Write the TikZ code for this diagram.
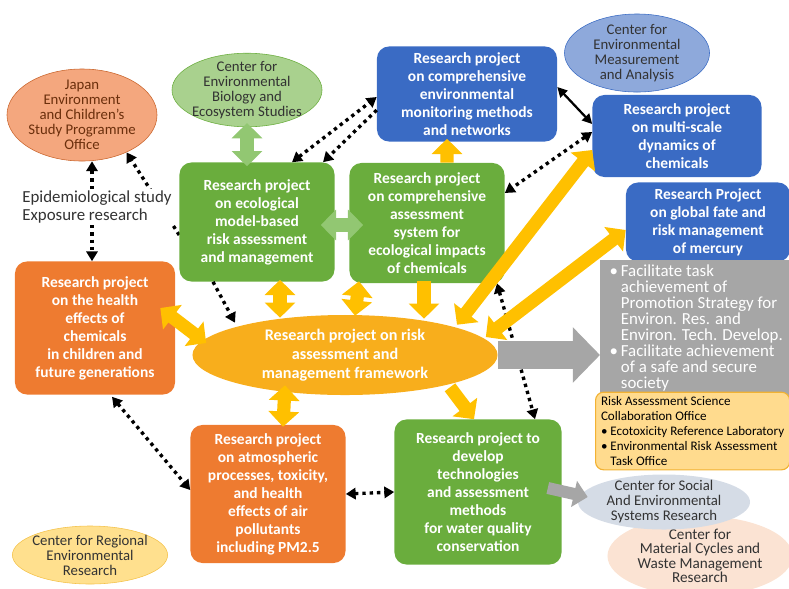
\documentclass[tikz,border=0pt]{standalone}
\usepackage{fontspec}
\setmainfont{Carlito}
\usetikzlibrary{positioning,arrows.meta,calc,shapes.geometric,backgrounds}
\definecolor{mGreen}{HTML}{6AAD3D}
\definecolor{mGreenLt}{HTML}{A9D18E}
\definecolor{mGreenArr}{HTML}{92C772}
\definecolor{mBlue}{HTML}{3A6BC4}
\definecolor{mBlueLt}{HTML}{8EA9DB}
\definecolor{mOrange}{HTML}{EE7B30}
\definecolor{mGold}{HTML}{F8AE1C}
\definecolor{mYellow}{HTML}{FFC000}
\definecolor{mGray}{HTML}{A6A6A6}
\definecolor{mSalmon}{HTML}{F4A77E}
\definecolor{mRust}{HTML}{C9652C}
\definecolor{mBrownTxt}{HTML}{6B2F0C}
\definecolor{mSand}{HTML}{FFDB8E}
\definecolor{mSandBd}{HTML}{F2B233}
\definecolor{mSteel}{HTML}{D5DCE6}
\definecolor{mPeach}{HTML}{FBE3D3}
\definecolor{mCream}{HTML}{FFE08E}
\definecolor{mCreamBd}{HTML}{F4C24A}
\definecolor{mInk}{HTML}{333333}
\newcommand{\gbul}{\textbullet\,}
\newcommand{\gind}{\phantom{\textbullet\,}}

\begin{document}
\begin{tikzpicture}[x=0.025cm, y=-0.025cm,
  projbox/.style={rounded corners=0.3cm, text=white, align=center, inner sep=0pt,
    font=\bfseries\fontsize{11}{12.8}\selectfont},
  centre/.style={ellipse, align=center, inner sep=-2pt, text=mInk,
    font=\fontsize{10.5}{10.7}\selectfont},
  fatarrow/.style={line width=0.33cm, draw=mYellow,
    {Triangle[length=0.38cm,width=0.75cm]}-{Triangle[length=0.38cm,width=0.75cm]}},
  fatone/.style={line width=0.33cm, draw=mYellow, -{Triangle[length=0.38cm,width=0.75cm]}},
  dotarrow/.style={line width=2.4pt, dash pattern=on 2.4pt off 2.8pt,
    {Triangle[length=7pt,width=8pt]}-{Triangle[length=7pt,width=8pt]}},
  dotone/.style={line width=2.4pt, dash pattern=on 2.4pt off 2.8pt, -{Triangle[length=7pt,width=8pt]}}]
\useasboundingbox (0,0) rectangle (789,588);

% research projects
\node[projbox, fill=mGreen, minimum width=3.875cm, minimum height=2.975cm] (eco) at (257,222) {Research project\\on ecological\\model-based\\risk assessment\\and management};
\node[projbox, fill=mGreen, minimum width=3.875cm, minimum height=3.0cm] (assess) at (427,223) {Research project\\on comprehensive\\assessment\\system for\\ecological impacts\\of chemicals};
\node[projbox, fill=mBlue, minimum width=4.5cm, minimum height=2.375cm] (monitor) at (467,94) {Research project\\on comprehensive\\environmental\\monitoring methods\\and networks};
\node[projbox, fill=mBlue, minimum width=4.225cm, minimum height=2.05cm] (multi) at (677,136) {Research project\\on multi-scale\\dynamics of\\chemicals};
\node[projbox, fill=mBlue, minimum width=4.1cm, minimum height=1.975cm] (mercury) at (708,222) {Research Project\\on global fate and\\risk management\\of mercury};
\node[projbox, fill=mOrange, minimum width=4.0cm, minimum height=3.325cm] (health) at (95,328) {Research project\\on the health\\effects of\\chemicals\\in children and\\future generations};
\node[projbox, fill=mOrange, minimum width=3.875cm, minimum height=3.45cm] (atmos) at (268,494) {Research project\\on atmospheric\\processes, toxicity,\\and health\\effects of air\\pollutants\\including PM2.5};
\node[projbox, fill=mGreen, minimum width=4.175cm, minimum height=3.625cm] (water) at (478,492) {Research project to\\develop\\technologies\\and assessment\\methods\\for water quality\\conservation};
\node[ellipse, fill=mGold, text=white, align=center, inner sep=0pt, minimum width=7.625cm, minimum height=2.0cm,
  font=\bfseries\fontsize{11.5}{13.5}\selectfont] (central) at (345,355) {Research project on risk\\assessment and\\management framework};

% centres and offices
\node[centre, fill=mSalmon, draw=mRust, text=mBrownTxt, minimum width=3.75cm, minimum height=2.3cm] (japan) at (82,115) {Japan\\Environment\\and Children's\\Study Programme\\Office};
\node[centre, fill=mGreenLt, draw=mGreen, minimum width=3.75cm, minimum height=1.75cm] (bio) at (247,90) {Center for\\Environmental\\Biology and\\Ecosystem Studies};
\node[centre, fill=mBlueLt, draw=mBlue, minimum width=3.625cm, minimum height=1.95cm] (meas) at (637,53) {Center for\\Environmental\\Measurement\\and Analysis};
\node[centre, fill=mPeach, minimum width=4.625cm, minimum height=2.0cm, font=\fontsize{10.8}{10.2}\selectfont] (material) at (700,556) {Center for\\Material Cycles and\\Waste Management\\Research};
\node[centre, fill=mSteel, minimum width=4.3cm, minimum height=1.375cm] (social) at (664,502) {Center for Social\\And Environmental\\Systems Research};
\node[centre, fill=mCream, draw=mCreamBd, minimum width=3.75cm, minimum height=1.45cm] (regional) at (90,555) {Center for Regional\\Environmental\\Research};
\node[fill=white, align=left, inner sep=1pt, text=mInk, font=\fontsize{12}{13}\selectfont] (epi) at (97,207) {Epidemiological study\\Exposure research};
\node[fill=mGray, text=white, align=left, anchor=west, inner xsep=4pt, minimum width=4.8cm, minimum height=3.25cm,
  font=\fontsize{12}{11.4}\selectfont] (goal) at (600,328) {\gbul Facilitate task\\\gind achievement of\\\gind Promotion Strategy for\\\gind Environ. Res. and\\\gind Environ. Tech. Develop.\\\gbul Facilitate achievement\\\gind of a safe and secure\\\gind society};
\node[rounded corners=0.2cm, fill=mSand, draw=mSandBd, thick, align=left, anchor=west, inner xsep=2pt,
  minimum width=4.85cm, minimum height=1.85cm, font=\fontsize{9.3}{10.5}\selectfont] (risk) at (595,431) {Risk Assessment Science\\Collaboration Office\\\textbullet\ Ecotoxicity Reference Laboratory\\\textbullet\ Environmental Risk Assessment\\\phantom{\textbullet\ }Task Office};

% dotted links
\begin{scope}[on background layer]
\draw[dotone] ($(eco.west)+(0,13)$) -- (japan.-40);
\end{scope}
\draw[dotone] ($(epi.north)+(-5,0)$) -- ($(japan.south)+(10,0)$);
\draw[dotone] ($(epi.south)+(-5,0)$) -- ($(health.north)+(-3,0)$);
\draw[dotarrow] ($(eco.north)+(35,0)$) -- ($(monitor.west)+(0,3)$);
\draw[dotone] ($(monitor.west)+(0,16)$) -- ($(eco.north)+(66,0)$);
\draw[line width=1.6pt, {Triangle[length=7pt,width=7pt]}-{Triangle[length=7pt,width=7pt]}] ($(monitor.east)+(0,-7)$) -- ($(multi.west)+(0,-12)$);
\draw[dotarrow] ($(multi.west)+(0,-4)$) -- ($(assess.east)+(0,-30)$);
\draw[dotone] ($(eco.south)+(-44,0)$) -- ($(central.north)+(-110,8)$);
\draw[dotarrow] ($(assess.south)+(70,0)$) -- ($(water.north)+(57,0)$);
\draw[dotarrow] ($(health.south)+(17,2)$) -- ($(atmos.west)+(0,-4)$);
\draw[dotarrow] (atmos.east) -- (water.west);

% gray arrows
\draw[line width=0.7cm, draw=mGray, -{Triangle[length=0.68cm,width=1.35cm]}] (central.east) -- (central.east -| goal.west);
\draw[line width=0.3cm, draw=mGray, -{Triangle[length=0.35cm,width=0.65cm]}] ($(water.east)+(-14,-4)$) -- ($(social.west)+(10,-5)$);

% fat arrows
\draw[fatarrow, draw=mGreenArr] ($(bio.south)+(0,-4)$) -- ($(bio.south |- eco.north)+(0,4)$);
\draw[fatarrow, draw=mGreenArr] ($(eco.east)+(-14,3)$) -- ($(assess.west)+(14,2)$);
\draw[fatone] ([xshift=0.5cm]assess.north) -- ($(monitor.south)+(-20,-3)$);
\draw[fatarrow] ($(health.east)+(-15,-20)$) -- ($(central.west)+(14,-12)$);
\draw[fatarrow] ($(eco.south)+(23,-2)$) -- ($(central.north)+(-65,3)$);
\draw[fatarrow] ($(assess.south)+(-68,-2)$) -- ($(central.north)+(10,1)$);
\draw[fatone] ($(assess.south)+(-3,-2)$) -- ($(central.north)+(79,4)$);
\draw[fatarrow] ($(central.north)+(112,10)$) -- ($(multi.west)+(0,14)$);
\draw[fatarrow] ($(central.east)+(-12,-18)$) -- ($(mercury.west)+(0,8)$);
\draw[fatarrow] ($(central.south)+(-60,-10)$) -- ($(atmos.north)+(15,2)$);
\draw[fatone] ($(central.south)+(105,-8)$) -- ($(water.north)+(-4,0)$);
\end{tikzpicture}
\end{document}
